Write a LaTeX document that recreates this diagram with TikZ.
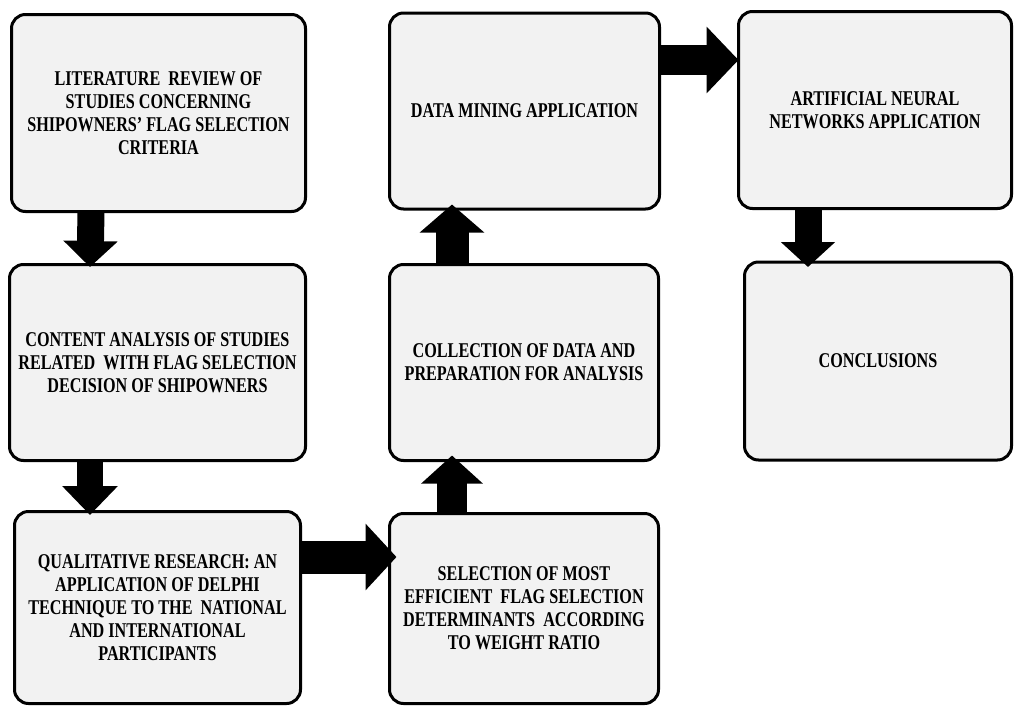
\documentclass[tikz,border=0pt]{standalone}
\usepackage{fontspec}
\newfontfamily\boxfont[FakeStretch=0.77,Ligatures=TeX]{Liberation Serif}
\usetikzlibrary{arrows.meta}
\definecolor{boxgray}{HTML}{F2F2F2}

\begin{document}
\begin{tikzpicture}[x=1pt,y=-1pt,
        stepbox/.style={draw=black,line width=3pt,rounded corners=14pt,fill=boxgray,
            align=center,inner sep=0pt,font=\boxfont\bfseries\fontsize{21}{23}\selectfont},
        fatarrow/.style n args={3}{line width=#1,-{Triangle[width=#2,length=#3]}}]
        \useasboundingbox (0,0) rectangle (1015,707);

        % first column
        \node[stepbox,minimum width=294pt,minimum height=197pt] (lit) at (158.5,113)
            {LITERATURE\ \ REVIEW OF\\STUDIES CONCERNING\\SHIPOWNERS’ FLAG SELECTION\\CRITERIA};
        \node[stepbox,minimum width=296pt,minimum height=196pt] (content) at (157.5,362.5)
            {CONTENT ANALYSIS OF STUDIES\\RELATED\ \ WITH FLAG SELECTION\\DECISION OF SHIPOWNERS};
        \node[stepbox,minimum width=286pt,minimum height=192pt] (qual) at (157.5,607.5)
            {QUALITATIVE RESEARCH: AN\\APPLICATION OF DELPHI\\TECHNIQUE TO THE\ \ NATIONAL\\AND INTERNATIONAL\\PARTICIPANTS};

        % second column
        \node[stepbox,minimum width=269pt,minimum height=190pt] (sel) at (524,608.5)
            {SELECTION OF MOST\\EFFICIENT\ \ FLAG SELECTION\\DETERMINANTS\ \ ACCORDING\\TO WEIGHT RATIO};
        \node[stepbox,minimum width=269pt,minimum height=196pt] (coll) at (524,362.5)
            {COLLECTION OF DATA AND\\PREPARATION FOR ANALYSIS};
        \node[stepbox,minimum width=270pt,minimum height=196pt] (dm) at (524.5,111)
            {DATA MINING APPLICATION};

        % third column
        \node[stepbox,minimum width=273pt,minimum height=197pt] (ann) at (875,110)
            {ARTIFICIAL NEURAL\\NETWORKS APPLICATION};
        \node[stepbox,minimum width=267pt,minimum height=198pt] (conc) at (878,361)
            {CONCLUSIONS};

        % the block arrows between the steps
        \draw[fatarrow={27pt}{53pt}{26pt}] ([xshift=-67.5pt]lit.south) -- ([xshift=-67.5pt,yshift=-4pt]content.north);
        \draw[fatarrow={26pt}{54pt}{29pt}] ([xshift=-67.5pt]content.south) -- ([xshift=-67.5pt,yshift=-5pt]qual.north);
        \draw[fatarrow={33pt}{65pt}{31pt}] ([yshift=50.5pt]qual.east) -- ([xshift=8.5pt,yshift=51.5pt]sel.west);
        \draw[fatarrow={30pt}{60pt}{28pt}] ([xshift=-72pt]sel.north) -- ([xshift=-72pt,yshift=6.5pt]coll.south);
        \draw[fatarrow={33pt}{63pt}{28pt}] ([xshift=-72pt]coll.north) -- ([xshift=-72.5pt,yshift=6pt]dm.south);
        \draw[fatarrow={30pt}{65pt}{32pt}] ([yshift=51pt]dm.east) -- ([xshift=1.5pt,yshift=50pt]ann.west);
        \draw[fatarrow={27pt}{53pt}{25pt}] ([xshift=-67pt]ann.south) -- ([xshift=-70pt,yshift=-6.5pt]conc.north);
\end{tikzpicture}
\end{document}
